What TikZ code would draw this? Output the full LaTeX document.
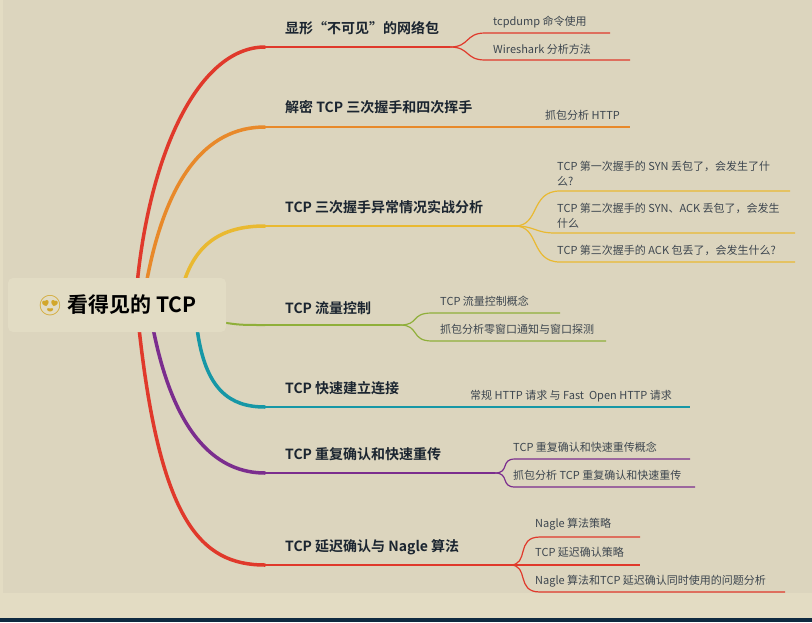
\documentclass[tikz,border=0pt]{standalone}
\usepackage{fontspec}
\setmainfont{Noto Sans CJK SC}[BoldFont={Noto Sans CJK SC Bold}]
\newfontfamily\emojifont{Noto Emoji}
\definecolor{bgout}{HTML}{E3DCC3}
\definecolor{bgin}{HTML}{DCD5BE}
\definecolor{rootfill}{HTML}{E2DCC4}
\definecolor{bar}{HTML}{0F2A40}
\definecolor{ink}{HTML}{1B2530}
\definecolor{cred}{HTML}{E0392B}
\definecolor{corange}{HTML}{E8892A}
\definecolor{cyellow}{HTML}{E9B931}
\definecolor{cgreen}{HTML}{8FAF3A}
\definecolor{cteal}{HTML}{1697A6}
\definecolor{cpurple}{HTML}{7B2D8E}
\usetikzlibrary{positioning}
\begin{document}
\begin{tikzpicture}[x=1pt,y=-1pt,
    title/.style={anchor=base west,inner sep=0pt,font=\bfseries\fontsize{14}{16}\selectfont,text=ink},
    sub/.style={anchor=base west,inner sep=0pt,font=\fontsize{11}{14.5}\selectfont,text=ink!85,align=left},
    trunk/.style={line width=3.5pt,line cap=round},
    twig/.style={line width=1.2pt}]
    \useasboundingbox (0,0) rectangle (812,622);
    \fill[bgout] (0,0) rectangle (812,622);
    \fill[bgin] (3,0) rectangle (812,593);
    \fill[bar] (0,618) rectangle (812,622);

    % main branches
    \coordinate (r1) at (137,285);
    \coordinate (r2) at (146,285);
    \coordinate (r3) at (183,285);
    \coordinate (r4) at (220,322);
    \coordinate (r5) at (197,328);
    \coordinate (r6) at (153,328);
    \coordinate (r7) at (139,328);

    \coordinate (b1) at (265,47);
    \coordinate (b2) at (265,127);
    \coordinate (b3) at (265,226);
    \coordinate (b4) at (265,325);
    \coordinate (b5) at (265,407);
    \coordinate (b6) at (265,473);
    \coordinate (b7) at (265,565);

    \draw[trunk,cred] (r1) .. controls (150,150) and (200,47) .. (b1);
    \draw[trunk,corange] (r2) .. controls (165,180) and (205,127) .. (b2);
    \draw[trunk,cyellow] (r3) .. controls (195,245) and (220,226) .. (b3);
    \draw[trunk,cgreen,line width=2pt] (r4) .. controls (240,325) .. (b4);
    \draw[trunk,cteal] (r5) .. controls (205,390) and (230,407) .. (b5);
    \draw[trunk,cpurple] (r6) .. controls (175,440) and (220,473) .. (b6);
    \draw[trunk,cred] (r7) .. controls (160,520) and (200,565) .. (b7);

    % titles
    \node[title] (t1) at (285,33) {显形“不可见”的网络包};
    \node[title] (t2) at (285,112) {解密 TCP 三次握手和四次挥手};
    \node[title] (t3) at (285,212) {TCP 三次握手异常情况实战分析};
    \node[title] (t4) at (285,313) {TCP 流量控制};
    \node[title] (t5) at (285,393) {TCP 快速建立连接};
    \node[title] (t6) at (285,459) {TCP 重复确认和快速重传};
    \node[title] (t7) at (285,551) {TCP 延迟确认与 Nagle 算法};

    % split points
    \coordinate (s1) at (450,47);
    \coordinate (s3) at (515,226);
    \coordinate (s4) at (400,325);
    \coordinate (s6) at (495,473);
    \coordinate (s7) at (510,565);

    \draw[twig,cred] (b1) -- (s1);
    \draw[twig,corange] (b2) -- (630,127);
    \draw[twig,cyellow] (b3) -- (s3);
    \draw[twig,cgreen] (b4) -- (s4);
    \draw[twig,cteal] (b5) -- (690,407);
    \draw[twig,cpurple] (b6) -- (s6);
    \draw[twig,cred] (b7) -- (s7);

    % leaves
    \node[sub] (l11) at (493,25) {tcpdump 命令使用};
    \node[sub] (l12) at (493,53) {Wireshark 分析方法};
    \node[sub] (l21) at (545,119) {抓包分析 HTTP};
    \node[sub] (l31) at (557,185) {TCP 第一次握手的 SYN 丢包了，会发生了什\\么?};
    \node[sub] (l32) at (557,227) {TCP 第二次握手的 SYN、ACK 丢包了，会发生\\什么};
    \node[sub] (l33) at (557,254) {TCP 第三次握手的 ACK 包丢了，会发生什么?};
    \node[sub] (l41) at (440,305) {TCP 流量控制概念};
    \node[sub] (l42) at (440,333) {抓包分析零窗口通知与窗口探测};
    \node[sub] (l51) at (470,399) {常规 HTTP 请求 与 Fast\ \ Open HTTP 请求};
    \node[sub] (l61) at (513,451) {TCP 重复确认和快速重传概念};
    \node[sub] (l62) at (513,479) {抓包分析 TCP 重复确认和快速重传};
    \node[sub] (l71) at (535,527) {Nagle 算法策略};
    \node[sub] (l72) at (535,556) {TCP 延迟确认策略};
    \node[sub] (l73) at (535,584) {Nagle 算法和TCP 延迟确认同时使用的问题分析};

    \draw[twig,cred] (s1) .. controls (470,47) and (465,33) .. (485,33) -- (610,33);
    \draw[twig,cred] (s1) .. controls (470,47) and (465,60) .. (485,60) -- (630,60);
    \draw[twig,cyellow] (s3) .. controls (540,226) and (530,191) .. (560,191) -- (790,191);
    \draw[twig,cyellow] (s3) .. controls (535,226) and (535,233) .. (555,233) -- (795,233);
    \draw[twig,cyellow] (s3) .. controls (540,226) and (530,262) .. (560,262) -- (795,262);
    \draw[twig,cgreen] (s4) .. controls (420,325) and (410,313) .. (432,313) -- (560,313);
    \draw[twig,cgreen] (s4) .. controls (420,325) and (410,341) .. (432,341) -- (606,341);
    \draw[twig,cpurple] (s6) .. controls (510,473) and (500,459) .. (515,459) -- (690,459);
    \draw[twig,cpurple] (s6) .. controls (510,473) and (500,487) .. (515,487) -- (695,487);
    \draw[twig,cred] (s7) .. controls (530,565) and (515,537) .. (540,537) -- (640,537);
    \draw[twig,cred] (s7) -- (640,565);
    \draw[twig,cred] (s7) .. controls (530,565) and (515,592) .. (540,592) -- (785,592);

    % root
    \node[fill=rootfill,rounded corners=5pt,minimum width=218pt,minimum height=54pt,
          font=\bfseries\fontsize{21}{24}\selectfont,text=black] (root) at (117,305)
        {\textcolor{cyellow!90!black}{\emojifont\fontsize{20}{22}\selectfont 😍}\ 看得见的 TCP};
\end{tikzpicture}
\end{document}
